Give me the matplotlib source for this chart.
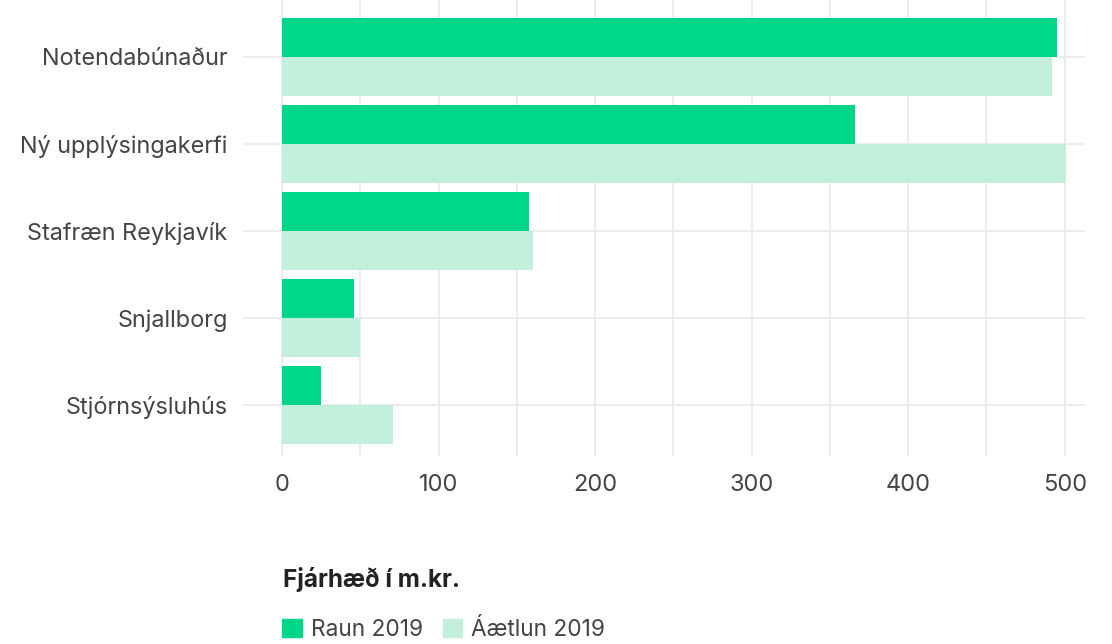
import numpy as np
import matplotlib
matplotlib.use("Agg")
import matplotlib.pyplot as plt
from matplotlib.patches import Patch

# gögn
flokkar = ["Notendabúnaður", "Ný upplýsingakerfi", "Stafræn Reykjavík", "Snjallborg", "Stjórnsýsluhús"]
raun = [495, 366, 158, 46, 25]
aaetlun = [492, 501, 160, 50, 71]

plt.rcParams['font.family'] = ['Inter', 'DejaVu Sans']
texti = "#444444"
grænn = "#00D68A"
ljos = "#C3F0DC"

fig = plt.figure(figsize=(11.12, 6.44), dpi=100)
ax = fig.add_axes([243/1112, 1-456/644, (1085-243)/1112, 456/644])

y = np.arange(len(flokkar))
h = 0.45
ax.barh(y - h/2, raun, height=h, color=grænn, zorder=2)
ax.barh(y + h/2, aaetlun, height=h, color=ljos, zorder=2)

ax.set_xlim(-25, 513)
ax.set_ylim(4.586, -0.655)
ax.set_yticks(y)
ax.set_yticklabels(flokkar)
ax.set_xticks([0, 100, 200, 300, 400, 500])
ax.set_xticks(np.arange(50, 500, 50), minor=True)
ax.tick_params(axis='y', length=0, pad=11, labelsize=16.9, labelcolor=texti)
ax.tick_params(axis='x', which='both', length=0, pad=13, labelsize=17, labelcolor=texti)
ax.grid(True, which='both', color="#EBEBEB", linewidth=1.3, zorder=0)
ax.set_axisbelow(True)
for s in ax.spines.values():
    s.set_visible(False)

# skýring
fig.text(283/1112, 1-580/644, "Fjárhæð í m.kr.", fontsize=17.5, fontweight='bold',
         color="#222222", va='center', ha='left')
handles = [Patch(color=grænn, label="Raun 2019"), Patch(color=ljos, label="Áætlun 2019")]
fig.legend(handles=handles, loc='center left', bbox_to_anchor=(262/1112, 1-630/644),
           ncol=2, frameon=False, fontsize=16.3, labelcolor=texti,
           handlelength=0.85, handleheight=0.85, handletextpad=0.4, columnspacing=0.9)

fig.savefig("out.png", dpi=100)
